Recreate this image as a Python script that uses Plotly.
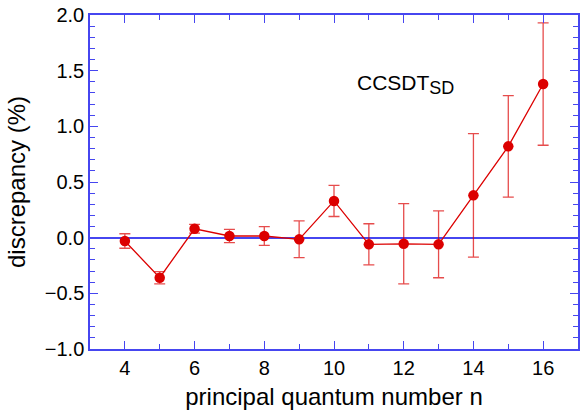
import plotly.graph_objects as go

n_vals = [4, 5, 6, 7, 8, 9, 10, 11, 12, 13, 14, 15, 16]
discrepancy = [-0.03, -0.36, 0.08, 0.015, 0.015, -0.015, 0.33, -0.06, -0.055, -0.06, 0.38, 0.82, 1.38]
err = [0.065, 0.055, 0.04, 0.06, 0.085, 0.165, 0.14, 0.185, 0.36, 0.30, 0.555, 0.455, 0.55]

x_ticks = [4, 6, 8, 10, 12, 14, 16]
y_ticks = [-1.0, -0.5, 0.0, 0.5, 1.0, 1.5, 2.0]
y_ticklabels = ["\u22121.0", "\u22120.5", "0.0", "0.5", "1.0", "1.5", "2.0"]

axis_blue = "rgb(70,70,240)"
red = "rgb(220,0,0)"
font = "Liberation Sans, Arial, Helvetica, sans-serif"

fig = go.Figure()
fig.add_trace(go.Scatter(
    x=n_vals, y=discrepancy, mode="lines+markers",
    line=dict(color=red, width=1.3),
    marker=dict(color=red, size=10.5),
    error_y=dict(type="data", array=err, visible=True,
                 color="rgba(220,0,0,0.7)", thickness=1.3, width=5.5),
    showlegend=False,
))

fig.add_annotation(
    x=10.6, y=1.38, xref="x", yref="y",
    text="CCSDT<sub><span style=\"font-size:18px\">SD</span></sub>", showarrow=False,
    font=dict(family=font, size=21, color="black"),
    xanchor="left", yanchor="middle",
)

fig.update_layout(
    width=581, height=416,
    margin=dict(l=90, r=1, t=15, b=67),
    paper_bgcolor="white", plot_bgcolor="white",
    font=dict(family=font, size=20, color="black"),
)
fig.update_xaxes(
    range=[3, 17], tickvals=x_ticks, ticktext=[str(v) for v in x_ticks],
    ticks="inside", ticklen=8, tickwidth=1.3, tickcolor=axis_blue,
    minor=dict(dtick=1, tick0=0, ticks="inside", ticklen=5, tickwidth=1.3, tickcolor=axis_blue),
    showline=True, linecolor=axis_blue, linewidth=1.5, mirror="allticks",
    showgrid=False, zeroline=False,
    title=dict(text="principal quantum number n", font=dict(size=24), standoff=10),
    tickfont=dict(size=20),
)
fig.update_yaxes(
    range=[-1.0, 2.0], tickvals=y_ticks, ticktext=y_ticklabels,
    ticks="inside", ticklen=8, tickwidth=1.3, tickcolor=axis_blue,
    minor=dict(dtick=0.1, tick0=0, ticks="inside", ticklen=5, tickwidth=1.3, tickcolor=axis_blue),
    showline=True, linecolor=axis_blue, linewidth=1.5, mirror="allticks",
    showgrid=False, zeroline=True, zerolinecolor=axis_blue, zerolinewidth=1.5,
    title=dict(text="discrepancy (%)", font=dict(size=24), standoff=12),
    tickfont=dict(size=20),
)

fig.write_html("out.html")
